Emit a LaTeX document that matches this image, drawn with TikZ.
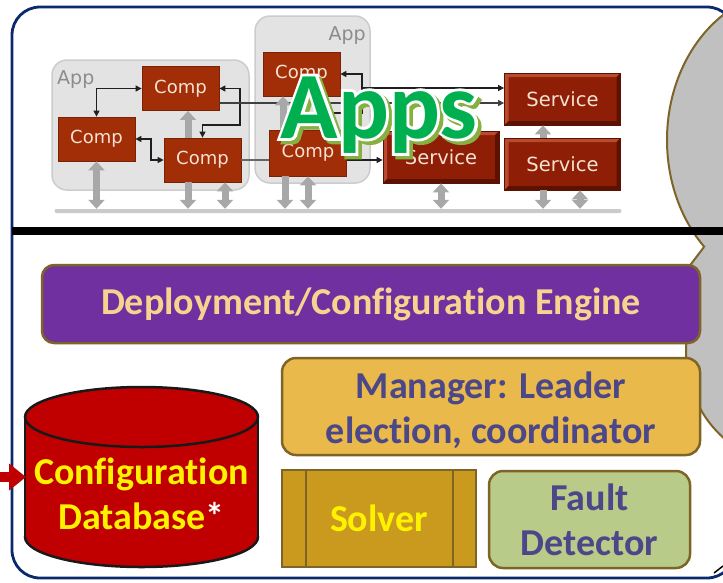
\documentclass[tikz,border=0pt]{standalone}
\usepackage{fontspec}
\setmainfont{Carlito}[Ligatures={NoCommon,NoRare}]
\newfontfamily\appfont{DejaVu Sans}
\newfontfamily\appsfat{Carlito}[BoldFeatures={FakeBold=5.9}]
\usetikzlibrary{arrows.meta,calc}

\definecolor{frame}{HTML}{0B2A6E}
\definecolor{olivebrd}{HTML}{7F6428}
\definecolor{bubble}{HTML}{C0C0C0}
\definecolor{engine}{HTML}{7030A0}
\definecolor{enginetxt}{HTML}{F6D38F}
\definecolor{mgr}{HTML}{E9B94B}
\definecolor{mgrtxt}{HTML}{4B4788}
\definecolor{solverfill}{HTML}{C99A1E}
\definecolor{faultfill}{HTML}{B8CB89}
\definecolor{dbred}{HTML}{C00000}
\definecolor{appbg}{HTML}{E3E3E3}
\definecolor{appbrd}{HTML}{CCCCCC}
\definecolor{applbl}{HTML}{8C8C8C}
\definecolor{compfill}{HTML}{A22E08}
\definecolor{compbrd}{HTML}{7A2206}
\definecolor{comptxt}{HTML}{F6E2D2}
\definecolor{svcface}{HTML}{8E1E06}
\definecolor{svclight}{HTML}{B94A30}
\definecolor{svcdark}{HTML}{5C1200}
\definecolor{garrow}{HTML}{A8A8A8}
\definecolor{busgrey}{HTML}{CACACA}
\definecolor{appsgreen}{HTML}{00B050}
\definecolor{appsshadow}{HTML}{86B040}

\begin{document}
\begin{tikzpicture}[x=1pt,y=-1pt,
  bigtext/.style={font=\bfseries\fontsize{38}{45}\selectfont, align=center, inner sep=0pt},
  panel/.style={draw=olivebrd, line width=2.5pt, bigtext},
  appbox/.style={draw=appbrd, fill=appbg, line width=1.5pt, rounded corners=15pt},
  applabel/.style={font=\appfont\fontsize{19}{22}\selectfont, text=applbl, inner sep=0pt},
  comp/.style={draw=compbrd, fill=compfill, line width=0.8pt, minimum width=77pt,
    minimum height=44pt, inner sep=0pt, font=\appfont\fontsize{18}{20}\selectfont, text=comptxt},
  service/.style={draw=svcdark, fill=svcface, line width=0.8pt, minimum width=116pt,
    minimum height=52pt, inner sep=0pt, font=\appfont\fontsize{19.5}{22}\selectfont, text=comptxt,
    path picture={
      \fill[svclight] (path picture bounding box.north west) -- (path picture bounding box.north east)
        -- ([shift={(-4pt,-4pt)}]path picture bounding box.north east)
        -- ([shift={(4pt,-4pt)}]path picture bounding box.north west)
        -- ([shift={(4pt,4pt)}]path picture bounding box.south west)
        -- (path picture bounding box.south west) -- cycle;
      \fill[svcdark] (path picture bounding box.south east) -- (path picture bounding box.north east)
        -- ([shift={(-4pt,-4pt)}]path picture bounding box.north east)
        -- ([shift={(-4pt,4pt)}]path picture bounding box.south east)
        -- ([shift={(4pt,4pt)}]path picture bounding box.south west)
        -- (path picture bounding box.south west) -- cycle;}},
  conn/.style={draw=black!88, line width=1.3pt},
  cboth/.style={conn, arrows={{Triangle[length=6pt,width=6pt]}-{Triangle[length=6pt,width=6pt]}}},
  cto/.style={conn, arrows={-{Triangle[length=6pt,width=6pt]}}},
  gshaft/.style={draw=garrow, line width=7pt},
  gboth/.style={gshaft, arrows={{Triangle[length=9pt,width=16pt]}-{Triangle[length=9pt,width=16pt]}}},
  gdown/.style={gshaft, arrows={-{Triangle[length=9pt,width=16pt]}}},
  gup/.style={gshaft, arrows={{Triangle[length=9pt,width=16pt]}-}},
  appsw/.style={font=\bfseries\fontsize{95}{100}\selectfont, inner sep=0pt, anchor=base},
  appsfatw/.style={font=\appsfat\bfseries\fontsize{95}{100}\selectfont, inner sep=0pt, anchor=base}
]
\useasboundingbox (0,0) rectangle (723,582);
\fill[white] (0,0) rectangle (723,582);

% outer frame
\draw[frame, line width=2.8pt, rounded corners=28pt] (12,7) rectangle (735,578);

% grey bubble on the right
\filldraw[fill=bubble, draw=olivebrd, line width=2pt] (790,140) ellipse [x radius=123, y radius=149];
\fill[bubble] (704,247) -- (688,268) -- (686,355) .. controls (690,400) and (705,422) .. (728,442)
  -- (800,442) -- (800,247) -- cycle;
\draw[olivebrd, line width=2pt] (704,247) -- (688,268) -- (686,355) .. controls (690,400) and (705,422) .. (728,442);

% divider
\fill[black] (12,227) rectangle (723,235);

% ---------- applications layer ----------
\node[appbox, minimum width=197pt, minimum height=130pt] (app1) at (150.5,125) {};
\node[appbox, minimum width=115pt, minimum height=167pt] (app2) at (312.5,99.5) {};
\node[applabel, anchor=west] (lbl1) at (57,80) {App};
\node[applabel, anchor=east] (lbl2) at (366,36) {App};

\node[draw=none, fill=busgrey, rounded corners=2pt, minimum width=567pt, minimum height=4pt,
  inner sep=0pt] (bus) at (338,211) {};

\node[comp] (c1) at (180.5,88.5) {Comp};
\node[comp] (c2) at (96.5,139) {Comp};
\node[comp] (c3) at (202.5,160) {Comp};
\node[comp] (c4) at (301.5,74) {Comp};
\node[comp, minimum height=46pt] (c5) at (308,153) {Comp};

\node[service] (s1) at (562.5,99) {Service};
\node[service] (s2) at (441,157) {Service};
\node[service] (s3) at (562.5,164) {Service};

% thin connectors
\coordinate (k1) at (240,125);
\coordinate (k2) at (151,150);
\coordinate (k3) at (362,113);
\coordinate (k4) at (362,88);
\coordinate (c1o) at ([yshift=-14.5pt]c1.east);
\coordinate (c3o) at (c3.east);
\draw[cboth] (c2.north) |- (c1.west);
\draw[cboth] (c1.east) -| (k1) -| (c3.north);
\draw[cboth] (c2.east) -| (k2) |- (c3.west);
\draw[cboth] (c4.east) -| (k3) -| (c5.north);
\draw[cto, draw=black!75] (c1o) -- (c1o -| s1.west);
\draw[cto] (k4) -- (k4 -| s1.west);
\draw[conn, draw=black!60] (c3o) -- (c3o -| c5.west);
\draw[cto] (c3o -| c5.east) -- (c3o -| s2.west);

% grey bus links
\coordinate (g2) at ([xshift=7.5pt]c1.south);
\coordinate (g3) at ([xshift=-14.5pt]c3.south);
\coordinate (g4) at ([xshift=22.5pt]c3.south);
\coordinate (g5) at ([xshift=-23pt]c5.south);
\coordinate (g7) at ([xshift=-18.5pt]c4.south);
\coordinate (g9) at ([xshift=-19.5pt]s1.south);
\coordinate (g10) at ([xshift=-19.5pt]s3.south);
\coordinate (g11) at ([xshift=17.5pt]s3.south);
\draw[gboth] (c2.south) -- (c2.south |- bus.north);
\draw[gup] (g2) -- (g2 |- c3.north);
\draw[gdown] (g3) -- (g3 |- bus.north);
\draw[gboth] (g4) -- (g4 |- bus.north);
\draw[gdown] (g5) -- (g5 |- bus.north);
\draw[gboth] (c5.south) -- (c5.south |- bus.north);
\draw[gup] (g7) -- (g7 |- c5.north);
\draw[gboth] (s2.south) -- (s2.south |- bus.north);
\draw[gup] (g9) -- (g9 |- s3.north);
\draw[gdown] (g10) -- (g10 |- bus.north);
\draw[gboth] (g11) -- (g11 |- bus.north);

% ---------- middleware layer ----------
\node[panel, fill=engine, text=enginetxt, rounded corners=12pt, minimum width=658pt,
  minimum height=78pt] (engine) at (371,304) {Deployment/Configuration Engine};
\node[panel, fill=mgr, rounded corners=14pt, minimum width=418pt,
  minimum height=97pt] (manager) at (491,406.5) {};
\node[bigtext, text=mgrtxt] (managertxt) at (491,410.5) {Manager: Leader\\election, coordinator};
\node[panel, fill=solverfill, text=yellow, minimum width=194pt, minimum height=97pt]
  (solver) at (379,518.5) {Solver};
\draw[olivebrd, line width=2pt] ([xshift=25pt]solver.north west) -- ([xshift=25pt]solver.south west);
\draw[olivebrd, line width=2pt] ([xshift=-24pt]solver.north east) -- ([xshift=-24pt]solver.south east);
\node[panel, fill=faultfill, text=mgrtxt, rounded corners=14pt, minimum width=201pt,
  minimum height=97pt] (fault) at (589.5,519.5) {Fault\\Detector};

% configuration database cylinder
\filldraw[fill=dbred, draw=black!90, line width=2.5pt] (141.5,537) ellipse [x radius=116.5, y radius=30];
\fill[dbred] (25,417) rectangle (258,537);
\draw[black!90, line width=2.5pt] (25,417) -- (25,537);
\draw[black!90, line width=2.5pt] (258,417) -- (258,537);
\filldraw[fill=dbred, draw=black!90, line width=2.5pt] (141.5,417) ellipse [x radius=116.5, y radius=30];
\node[bigtext, text=yellow] (db) at (141.5,494) {Configuration\\Database\textcolor{white}{*}};
\coordinate (feed) at (-20,477);
\coordinate (dbleft) at (26,477);
\draw[dbred, line width=10pt, arrows={-{Triangle[length=17pt,width=26pt]}}] (feed) -- (dbleft);

\draw[black, line width=1.5pt] (714,573) -- (723,566);

% ---------- "Apps" title: shadow, white rim, green face ----------
\node[appsfatw, text=appsshadow] (appsshadow) at (382.5,141.5) {Apps};
\node[appsfatw, text=white] (appsrim) at (379,138) {Apps};
\node[appsw, text=appsgreen] (apps) at (379,138) {Apps};
\end{tikzpicture}
\end{document}
